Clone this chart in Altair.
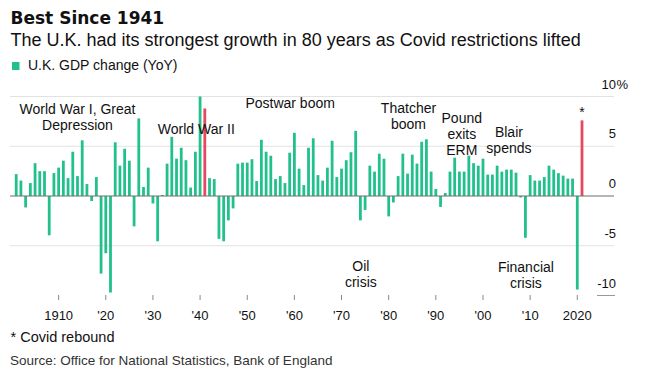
import altair as alt
import pandas as pd

# ---------------- data ----------------
years = list(range(1901, 2022))
gdp_change = [
    # 1901-1910
    2.2, 1.55, -1.15, 1.3, 3.3, 2.5, 2.5, -3.95, 2.3, 2.85,
    # 1911-1920
    3.55, 1.8, 4.45, 2.0, 5.6, 1.2, -0.5, 1.9, -7.8, -5.75,
    # 1921-1930
    -9.7, 5.4, 3.05, 4.75, 3.55, -3.05, 7.8, 0.9, 2.85, -0.75,
    # 1931-1940
    -4.55, 0.1, 3.25, 5.95, 3.75, 4.85, 3.6, 0.85, 4.45, 10.0,
    # 1941-1950
    8.8, 1.8, 1.7, -4.3, -4.55, -2.45, -1.25, 3.25, 3.35, 3.35,
    # 1951-1960
    3.7, 1.5, 5.65, 4.45, 4.05, 1.7, 2.0, 1.3, 4.35, 6.35,
    # 1961-1970
    2.75, 1.1, 4.85, 5.8, 2.1, 1.55, 2.85, 5.55, 1.9, 2.75,
    # 1971-1980
    3.6, 4.4, 6.55, -2.45, -1.4, 3.05, 2.45, 4.25, 3.75, -2.05,
    # 1981-1990
    -0.65, 2.0, 4.25, 2.25, 4.15, 3.25, 5.45, 5.7, 2.45, 0.7,
    # 1991-2000
    -1.1, 0.3, 2.45, 3.85, 2.45, 2.45, 4.05, 3.3, 3.05, 3.75,
    # 2001-2010
    2.15, 2.15, 3.05, 2.45, 2.65, 2.65, 2.35, -0.15, -4.2, 2.1,
    # 2011-2020
    1.55, 1.55, 1.9, 3.05, 2.65, 2.3, 2.05, 1.75, 1.75, -9.4,
    # 2021
    7.6,
]
highlight_years = [1941, 2021]

tick_years = [1910, 1920, 1930, 1940, 1950, 1960, 1970, 1980, 1990, 2000, 2010, 2020]
tick_labels = ["1910", "'20", "'30", "'40", "'50", "'60", "'70", "'80", "'90", "'00", "'10", "2020"]

y_values = [10, 5, 0, -5, -10]
y_labels = ["10", "5", "0", "-5", "-10"]
grid_values = [10, 5, -5]

ann_text = ["World War I, Great\nDepression", "World War II", "Postwar boom",
            "Thatcher\nboom", "Pound\nexits\nERM", "Blair\nspends",
            "Oil\ncrisis", "Financial\ncrisis"]
ann_year = [1914.0, 1939.2, 1959.1, 1984.2, 1995.5, 2005.5, 1974.1, 2009.1]
ann_value = [8.2, 6.25, 8.85, 8.35, 7.35, 5.95, -7.55, -7.6]

star_year = [2021]
star_value = [7.95]

title_text = "Best Since 1941"
subtitle_text = "The U.K. had its strongest growth in 80 years as Covid restrictions lifted"
legend_text = "U.K. GDP change (YoY)"
note_text = "* Covid rebound"
source_text = "Source: Office for National Statistics, Bank of England"

# ---------------- styles ----------------
GREEN = "#22c08c"
RED = "#e6485f"
INK = "#111111"
BODY = "Liberation Sans"

x_scale = alt.Scale(domain=[1901, 2021], range=[3.2, 579.0], nice=False, zero=False)
y_scale = alt.Scale(domain=[-10, 10], range=[287.5, 88.5], nice=False, zero=False)

bars_df = pd.DataFrame({"year": years, "value": gdp_change})
ticks_df = pd.DataFrame({"year": tick_years, "label": tick_labels})
ylab_df = pd.DataFrame({"v": y_values, "label": y_labels})
grid_df = pd.DataFrame({"v": grid_values})
ann_df = pd.DataFrame({"year": ann_year, "value": ann_value, "text": ann_text})
star_df = pd.DataFrame({"year": star_year, "value": star_value, "text": ["*"]})


def label(text, x, y, size, weight="normal", color=INK, font=BODY, align="left"):
    return alt.Chart(alt.Data(values=[{"t": text}])).mark_text(
        align=align, baseline="alphabetic", fontSize=size, fontWeight=weight,
        color=color, font=font
    ).encode(x=alt.value(x), y=alt.value(y), text="t:N")


grid = alt.Chart(grid_df).mark_rule(color="#e2e2e2", strokeWidth=1).encode(
    y=alt.Y("v:Q", scale=y_scale, axis=None),
    x=alt.value(2), x2=alt.value(606),
)
bottom_seg = alt.Chart(alt.Data(values=[{"v": -10}])).mark_rule(color="#999999", strokeWidth=1).encode(
    y=alt.Y("v:Q", scale=y_scale, axis=None),
    x=alt.value(589), x2=alt.value(607),
)

bars = alt.Chart(bars_df).mark_bar(size=2.8).encode(
    x=alt.X("year:Q", scale=x_scale, axis=None),
    y=alt.Y("value:Q", scale=y_scale, axis=None),
    y2=alt.datum(0),
    color=alt.condition(
        alt.FieldOneOfPredicate(field="year", oneOf=highlight_years),
        alt.value(RED), alt.value(GREEN)
    ),
)

zero = alt.Chart(alt.Data(values=[{"v": 0}])).mark_rule(color="#6e6e6e", strokeWidth=1).encode(
    y=alt.Y("v:Q", scale=y_scale, axis=None),
    x=alt.value(2), x2=alt.value(606),
)

ticks = alt.Chart(ticks_df).mark_rule(color="#888888", strokeWidth=1).encode(
    x=alt.X("year:Q", scale=x_scale, axis=None),
    y=alt.value(287), y2=alt.value(292),
)
tick_text = alt.Chart(ticks_df).mark_text(
    align="center", baseline="alphabetic", fontSize=13, font=BODY, color=INK
).encode(
    x=alt.X("year:Q", scale=x_scale, axis=None),
    y=alt.value(312),
    text="label:N",
)

ylab = alt.Chart(ylab_df).mark_text(
    align="right", baseline="alphabetic", fontSize=13, font=BODY, color=INK, dy=-8
).encode(
    x=alt.value(608),
    y=alt.Y("v:Q", scale=y_scale, axis=None),
    text="label:N",
)
pct = alt.Chart(alt.Data(values=[{"v": 10, "t": "%"}])).mark_text(
    align="left", baseline="alphabetic", fontSize=13, font=BODY, color=INK, dy=-8
).encode(
    x=alt.value(608.5),
    y=alt.Y("v:Q", scale=y_scale, axis=None),
    text="t:N",
)

ann = alt.Chart(ann_df).mark_text(
    align="center", baseline="alphabetic", fontSize=14, font=BODY, color=INK,
    lineBreak="\n", lineHeight=16
).encode(
    x=alt.X("year:Q", scale=x_scale, axis=None),
    y=alt.Y("value:Q", scale=y_scale, axis=None),
    text="text:N",
)
star = alt.Chart(star_df).mark_text(
    align="center", baseline="alphabetic", fontSize=14, font=BODY, color=INK
).encode(
    x=alt.X("year:Q", scale=x_scale, axis=None),
    y=alt.Y("value:Q", scale=y_scale, axis=None),
    text="text:N",
)

legend_sq = alt.Chart(alt.Data(values=[{"k": 0}])).mark_rect(color=GREEN).encode(
    x=alt.value(4), x2=alt.value(11.5), y=alt.value(54), y2=alt.value(62),
)

chart = alt.layer(
    grid, bottom_seg, bars, zero, ticks, tick_text, ylab, pct, ann, star,
    label(title_text, 2.5, 15.5, 17, weight="bold", font="DejaVu Sans"),
    label(subtitle_text, 2.5, 38, 18),
    legend_sq,
    label(legend_text, 20, 62, 14),
    label(note_text, 2.5, 334, 14.5),
    label(source_text, 2, 357, 13.5, color="#333333"),
).properties(
    width=644, height=362,
    autosize=alt.AutoSizeParams(type="none"),
    padding=0,
).configure_view(stroke=None)

chart.save("out.html", embed_options={"renderer": "svg", "actions": False})
